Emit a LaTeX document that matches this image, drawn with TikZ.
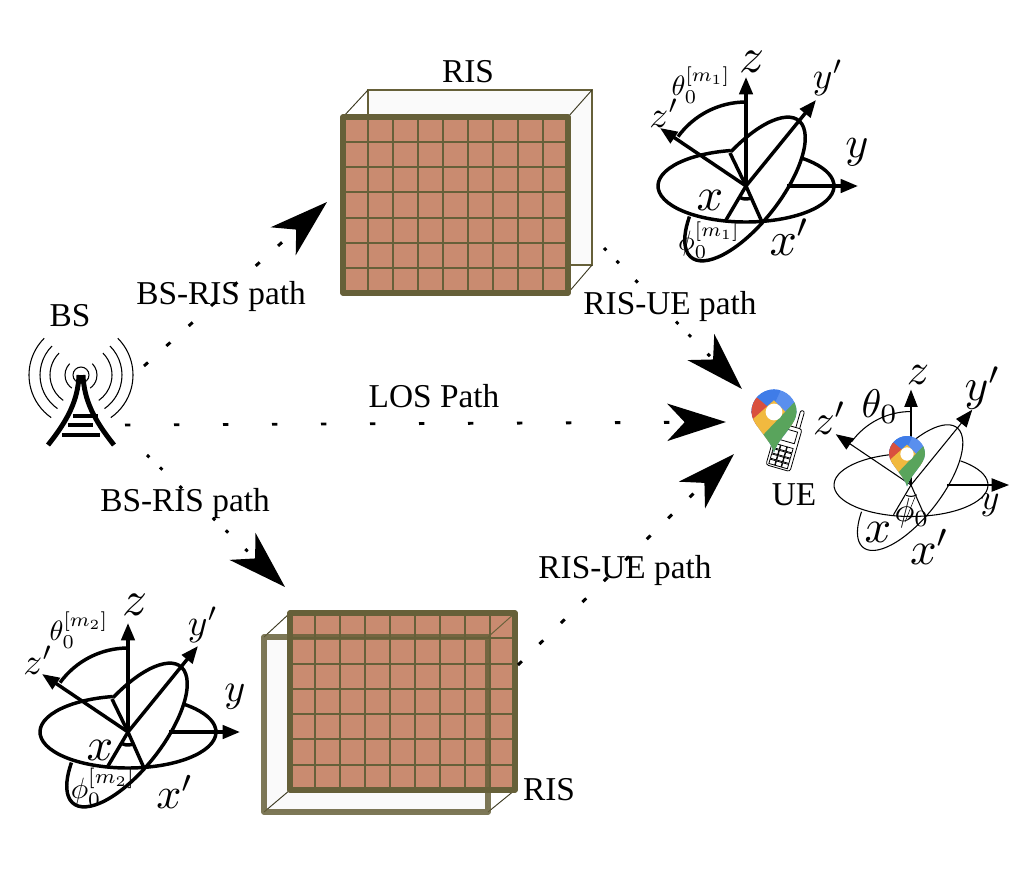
\documentclass[tikz,border=0pt]{standalone}
\usepackage{fontspec}
\setmainfont{Liberation Serif}
\usetikzlibrary{arrows.meta}
\definecolor{risolive}{HTML}{666039}
\definecolor{riscell}{HTML}{C98B70}
\definecolor{risback}{HTML}{FAFAFA}
\definecolor{pinblue}{HTML}{3F7CE8}
\definecolor{pinsky}{HTML}{5A8FEE}
\definecolor{pinred}{HTML}{D9503F}
\definecolor{pinyellow}{HTML}{F1B93F}
\definecolor{pingreen}{HTML}{59A45C}
\tikzset{
  pathline/.style={line width=2.2pt,dash pattern=on 4pt off 18.5pt,
    -{Stealth[length=44pt,width=28pt,inset=13pt]}},
  dotline/.style={pathline,dash pattern=on 2.5pt off 11pt on 2.5pt off 17.75pt on 2.5pt off #1},
  txt/.style={scale=2.5},
  axis/.style={-{Stealth[length=13pt,width=10pt,inset=0pt]}},
  gridline/.style={risolive,line width=1.5pt},
  rim/.style={risolive,line width=4pt,line join=round},
  edgeline/.style={risolive!60!black,line width=0.7pt},
}
\newcommand{\frameaxes}{
  \draw (100:88 and 36) arc[start angle=100,end angle=410,x radius=88,y radius=36];
  \draw[shift={(-1,-3)},rotate=52] (76:87 and 35) arc[start angle=76,end angle=-230,x radius=87,y radius=35];
  \draw (-16,33) -- (0,0) -- (16,-36);
  \draw (0,0) -- (-20,-34);
  \draw[axis] (0,0) -- (0,109);
  \draw[axis] (0,0) -- (-86,58);
  \draw[axis] (0,0) -- (70,86);
  \draw[axis] (41,0) -- (112,0);
  \draw (90:84) arc[start angle=90,end angle=144,radius=84];
  \draw (245:13) arc[start angle=245,end angle=300,radius=13];
}
\newcommand{\mappin}{
  \begin{scope}
    \clip (0,-1.8) .. controls (-.15,-1.2) and (-1,-.55) .. (-1,0)
      arc[start angle=180,end angle=0,radius=1]
      .. controls (1,-.55) and (.15,-1.2) .. (0,-1.8) -- cycle;
    \fill[pinsky] (-1.3,-2) rectangle (1.3,1.3);
    \fill[pinblue] (-1.3,1.3) -- (.45,1.3) -- (-.1,.1) -- (-1.3,-.1) -- cycle;
    \fill[pinred] (-1.3,1.1) -- (0,0) -- (-1.3,-1) -- cycle;
    \fill[pinyellow] (-1.3,-.64) -- (0,.52) -- (1,-.5) -- (-1.3,-2) -- cycle;
    \fill[pingreen] (1.3,.85) -- (1.3,-2) -- (-.8,-2) -- (-.8,-1.35) -- cycle;
    \fill[white] (0,0) circle (.37);
  \end{scope}
}
\newcommand{\riscells}{
  \fill[riscell] (0,0) rectangle (9,7);
  \foreach \i in {1,...,8} \draw[gridline] (\i,0) -- (\i,7);
  \foreach \j in {1,...,6} \draw[gridline] (0,\j) -- (9,\j);
}
\begin{document}
\begin{tikzpicture}[x=0.75pt,y=-0.75pt]
  \useasboundingbox (0,0) rectangle (1025,882);
  % upper RIS
  \draw[risolive,line width=1.5pt,fill=risback] (368,90) rectangle (592,265);
  \draw[edgeline] (343,117) -- (368,90) (568,117) -- (592,90) (568,293) -- (592,265);
  \begin{scope}[shift={(343,117)},x=18.75pt,y=-18.86pt]
    \riscells
  \end{scope}
  \draw[rim] (343,117) rectangle (568,293);
  % lower RIS
  \fill[risback] (264,637) rectangle (488,812);
  \draw[edgeline] (264,637) -- (290,613) (264,812) -- (290,790) (488,812) -- (515,790);
  \begin{scope}[shift={(290,613)},x=18.75pt,y=-18.96pt]
    \riscells
  \end{scope}
  \draw[risolive,line width=0.7pt] (488,637) -- (515,613);
  \draw[rim] (290,613) rectangle (515,790);
  \draw[rim,draw opacity=.85] (264,637) rectangle (488,812);
  % BS
  \coordinate (bs) at (81,375);
  \begin{scope}[shift={(bs)},x=0.75pt,y=0.75pt,line width=0.8pt]
    \draw (0,0) circle (8);
    \foreach \r in {16,31,41,52} {
      \draw (135:\r) arc[start angle=135,end angle=235,radius=\r];
      \draw (45:\r) arc[start angle=45,end angle=-55,radius=\r];
    }
  \end{scope}
  \draw[line width=3.7pt] (79,375) .. controls (78,400) and (68,420) .. (48,445);
  \draw[line width=3.7pt] (83,375) .. controls (84,400) and (94,420) .. (114,445);
  \draw[line width=2.6pt] (73,416) -- (98,416) (68,425) -- (93,425) (62,435) -- (100,435);
  % paths
  \coordinate (bsup) at (144,366);
  \coordinate (bsmid) at (125,425);
  \coordinate (bsdown) at (147,455);
  \coordinate (risatip) at (327,202);
  \coordinate (risbtip) at (285,587);
  \coordinate (risaout) at (604,248);
  \coordinate (risbout) at (518,665);
  \coordinate (uea) at (742,389);
  \coordinate (ueb) at (726,422);
  \coordinate (uec) at (734,454);
  \draw[pathline] (bsup) -- (risatip);
  \draw[dotline=32pt] (bsdown) -- (risbtip);
  \draw[pathline,dash pattern=on 4pt off 32.75pt] (bsmid) -- (ueb);
  \draw[dotline=41pt] (risaout) -- (uea);
  \draw[pathline] (risbout) -- (uec);
  % UE
  \begin{scope}[shift={(784,447)},rotate=-16,x=0.75pt,y=0.75pt,line width=0.6pt]
    \draw[rounded corners=1.5pt,fill=white] (6,20) -- (6,40) -- (10,40) -- (10,20);
    \draw[rounded corners=2pt,fill=white] (-12.5,-22) rectangle (12.5,22);
    \draw (-9,6) rectangle (9,18);
    \foreach \i in {-10,-3.4,3.2} \foreach \j in {-20,-14.5,-9,-3.5}
      \draw (\i,\j) rectangle +(6,4.5);
  \end{scope}
  \begin{scope}[shift={(774,412)},x=16.95pt,y=16.95pt]
    \mappin
  \end{scope}
  % frames
  \begin{scope}[shift={(746,186)},x=0.75pt,y=0.75pt,line width=2.6pt]
    \frameaxes
  \end{scope}
  \begin{scope}[shift={(128,732)},x=0.75pt,y=0.75pt,line width=2.6pt]
    \frameaxes
  \end{scope}
  \begin{scope}[shift={(911,485)},x=0.656pt,y=0.656pt,line width=0.8pt]
    \frameaxes
  \end{scope}
  \draw[line width=0.4pt] (915,497) -- (905,522);
  \begin{scope}[shift={(907,454)},x=13.5pt,y=13.5pt]
    \mappin
  \end{scope}
  % frame labels
  \node[scale=3.7] (za) at (752,62) {$z$};
  \node[scale=2.8] (ypa) at (828,78) {$y'$};
  \node[scale=3.3] (ya) at (857,152) {$y$};
  \node[scale=2.8] (zpa) at (664,113) {$z'$};
  \node[scale=2.1] (tha) at (701,85) {$\theta_0^{[m_1]}$};
  \node[scale=3.5] (xa) at (710,200) {$x$};
  \node[scale=3.6] (xpa) at (790,237) {$x'$};
  \node[scale=2.1] (pha) at (709,240) {$\phi_0^{[m_1]}$};
  \node[scale=3.7] (zb) at (135,605) {$z$};
  \node[scale=2.8] (ypb) at (203,625) {$y'$};
  \node[scale=3] (yb) at (235,697) {$y$};
  \node[scale=2.8] (zpb) at (38,660) {$z'$};
  \node[scale=2.1] (thb) at (79,630) {$\theta_0^{[m_2]}$};
  \node[scale=3.5] (xb) at (100,750) {$x$};
  \node[scale=3.3] (xpb) at (175,792) {$x'$};
  \node[scale=2.2] (phb) at (103,787) {$\phi_0^{[m_2]}$};
  \node[scale=3.3] (zc) at (918,375) {$z$};
  \node[scale=3.4] (ypc) at (983,388) {$y'$};
  \node[scale=2.7] (yc) at (990,505) {$y$};
  \node[scale=3.2] (zpc) at (830,418) {$z'$};
  \node[scale=3] (thc) at (880,407) {$\theta_0$};
  \node[scale=3.5] (xc) at (878,532) {$x$};
  \node[scale=3.5] (xpc) at (930,547) {$x'$};
  \node[scale=2.5] (phc) at (912,513) {$\phi_0$};
  % text
  \node[txt] (bslabel) at (70,316) {BS};
  \node[txt] (uelabel) at (794,495) {UE};
  \node[txt] (risalabel) at (468,72) {RIS};
  \node[txt] (risblabel) at (549,790) {RIS};
  \node[txt] (loslabel) at (434,396) {LOS Path};
  \node[txt] (bsrisa) at (221,296) {BS-RIS path};
  \node[txt] (bsrisb) at (185,503) {BS-RIS path};
  \node[txt] (risuea) at (670,306) {RIS-UE path};
  \node[txt] (risueb) at (625,570) {RIS-UE path};
\end{tikzpicture}
\end{document}
